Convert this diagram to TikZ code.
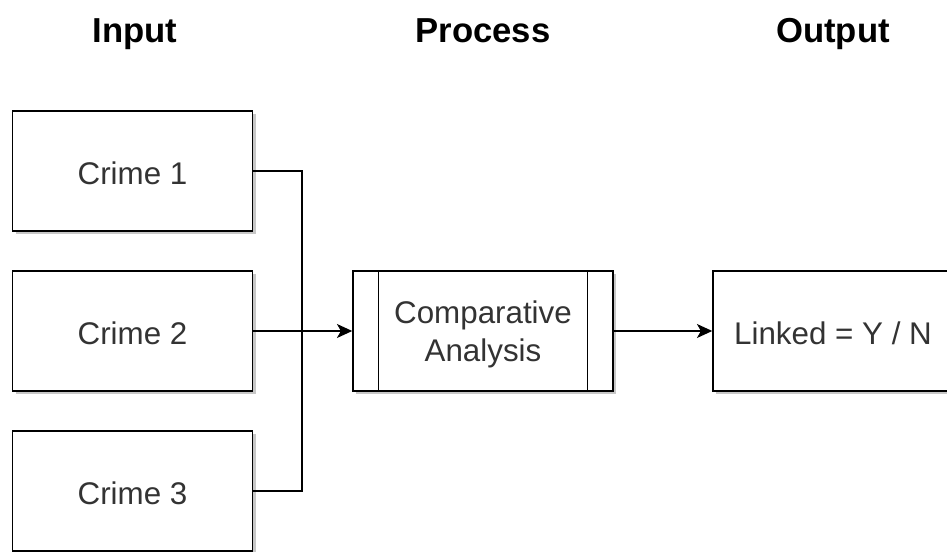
\documentclass[tikz,border=0pt]{standalone}
\usepackage{fontspec}
\setmainfont{Liberation Sans}
\usetikzlibrary{arrows.meta}
\usetikzlibrary{shadows}

\definecolor{boxtext}{HTML}{333333}

\begin{document}
\begin{tikzpicture} [x=0.75pt, y=-0.75pt,
  stage/.style={font=\fontsize{26}{30}\selectfont\bfseries, anchor=base},
  boxlabel/.style={text=boxtext, font=\fontsize{23.5}{28.5}\selectfont, align=center, inner sep=0pt},
  crimebox/.style={boxlabel, draw, line width=1.1pt, fill=white, minimum width=180pt, minimum height=90pt,
    drop shadow={shadow xshift=2.4pt, shadow yshift=-2.4pt, fill=black, opacity=0.22}},
  wire/.style={line width=1.1pt},
  >={Stealth[length=11.5pt, width=10.5pt, inset=3pt]}]
\useasboundingbox (0,0) rectangle (947,552);
\clip (0,0) rectangle (947,552);

% column titles
\node[stage] (tin)   at (135,43) {Input};
\node[stage] (tproc) at (483,43) {Process};
\node[stage] (tout)  at (833,43) {Output};

% the three inputs
\foreach \i [evaluate=\i as \y using 13+160*\i] in {1,2,3} {
  \node[crimebox] (crime\i) at (132.5,\y-2) {};
  \node[boxlabel] (crimetext\i) at (132.5,\y) {Crime \i};
}

% process box with its two inner bars
\node[crimebox, minimum width=195pt] (proc) at (483,331) {};
\draw[wire] ([xshift=19.5pt]proc.north west) -- ([xshift=19.5pt]proc.south west);
\draw[wire] ([xshift=-19.5pt]proc.north east) -- ([xshift=-19.5pt]proc.south east);
\node[boxlabel] (proctext) at ([yshift=-2.5pt]proc.center) {Comparative\\Analysis};

\node[crimebox] (result) at (833,331) {};
\node[boxlabel] (resulttext) at (833,333) {Linked = Y / N};

% connectors
\coordinate (join) at (302,331);
\draw[wire] (crime1.east) -| (join);
\draw[wire] (crime3.east) -| (join);
\draw[wire, ->] (crime2.east) -- (proc.west);
\draw[wire, ->] (proc.east) -- (result.west);
\end{tikzpicture}
\end{document}
